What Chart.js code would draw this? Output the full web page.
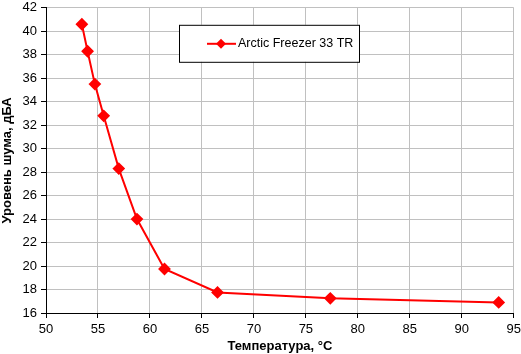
<!DOCTYPE html>
<html>
<head>
<meta charset="utf-8">
<script src="https://cdn.jsdelivr.net/npm/chart.js@4/dist/chart.umd.min.js"></script>
<style>
html,body{margin:0;padding:0;background:#fff;overflow:hidden;}
#wrap{width:521px;height:354px;position:relative;overflow:hidden;}
#ch{position:absolute;left:0;top:-4px;}
</style>
</head>
<body>
<div id="wrap"><canvas id="ch" width="525" height="358"></canvas></div>
<script>
// Шум кулера в зависимости от температуры
const serieNombre="Arctic Freezer 33 TR";
const temperatura=[53.45,54.0,54.7,55.55,57.0,58.75,61.4,66.5,77.35,93.55];
const ruido=[40.6,38.3,35.5,32.8,28.3,24.0,19.75,17.75,17.25,16.9];
const ejeX={min:50,max:95,paso:5,titulo:"Температура, °C"};
const ejeY={min:16,max:42,paso:2,titulo:"Уровень шума, дБА"};

const rojo="#ff0000";
Chart.defaults.font.family="'Liberation Sans',Arial,sans-serif";
Chart.defaults.font.size=12;
Chart.defaults.color="#000";

// leyenda dentro del area del grafico, como en Excel
const leyendaCaja={
  id:"leyendaCaja",
  afterDraw(c){
    const ctx=c.ctx,a=c.chartArea;
    const x=a.left+133,y=a.top+17,w=180,h=37;
    ctx.save();
    ctx.fillStyle="#fff";ctx.fillRect(x,y,w,h);
    ctx.strokeStyle="#000";ctx.lineWidth=1;ctx.strokeRect(x+0.5,y+0.5,w,h);
    const cy=y+19;
    ctx.strokeStyle=rojo;ctx.lineWidth=2;
    ctx.beginPath();ctx.moveTo(x+28,cy);ctx.lineTo(x+57,cy);ctx.stroke();
    ctx.fillStyle=rojo;ctx.beginPath();
    ctx.moveTo(x+42,cy-5);ctx.lineTo(x+47,cy);ctx.lineTo(x+42,cy+5);ctx.lineTo(x+37,cy);ctx.closePath();ctx.fill();
    ctx.fillStyle="#000";ctx.font="12.5px 'Liberation Sans',Arial,sans-serif";
    ctx.textBaseline="middle";ctx.fillText(serieNombre,x+59,cy);
    ctx.restore();
  }
};

new Chart(document.getElementById("ch"),{
  type:"line",
  data:{datasets:[{
    label:serieNombre,
    data:temperatura.map((t,i)=>({x:t,y:ruido[i]})),
    borderColor:rojo,backgroundColor:rojo,borderWidth:2,
    pointStyle:"rectRot",pointRadius:5,pointHoverRadius:5,
    tension:0
  }]},
  options:{
    responsive:false,animation:false,
    layout:{padding:{top:0,right:0,left:0,bottom:0}},
    plugins:{legend:{display:false},tooltip:{enabled:false}},
    scales:{
      x:{type:"linear",min:ejeX.min,max:ejeX.max,
        ticks:{stepSize:ejeX.paso,maxRotation:0,padding:4,font:{size:13}},
        grid:{color:"#c0c0c0",tickColor:"#000",tickLength:5},
        border:{color:"#000",width:1},
        title:{display:true,text:ejeX.titulo,font:{size:13,weight:"bold"},padding:{top:3,bottom:0}},
        afterFit(s){s.height=41;}
      },
      y:{min:ejeY.min,max:ejeY.max,
        ticks:{stepSize:ejeY.paso,padding:4,font:{size:13}},
        grid:{color:"#c0c0c0",tickColor:"#000",tickLength:5},
        border:{color:"#000",width:1},
        title:{display:true,text:ejeY.titulo,font:{size:13,weight:"bold"},padding:{top:0,bottom:2}},
        afterFit(s){s.width=46;}
      }
    }
  },
  plugins:[leyendaCaja]
});
</script>
</body>
</html>
